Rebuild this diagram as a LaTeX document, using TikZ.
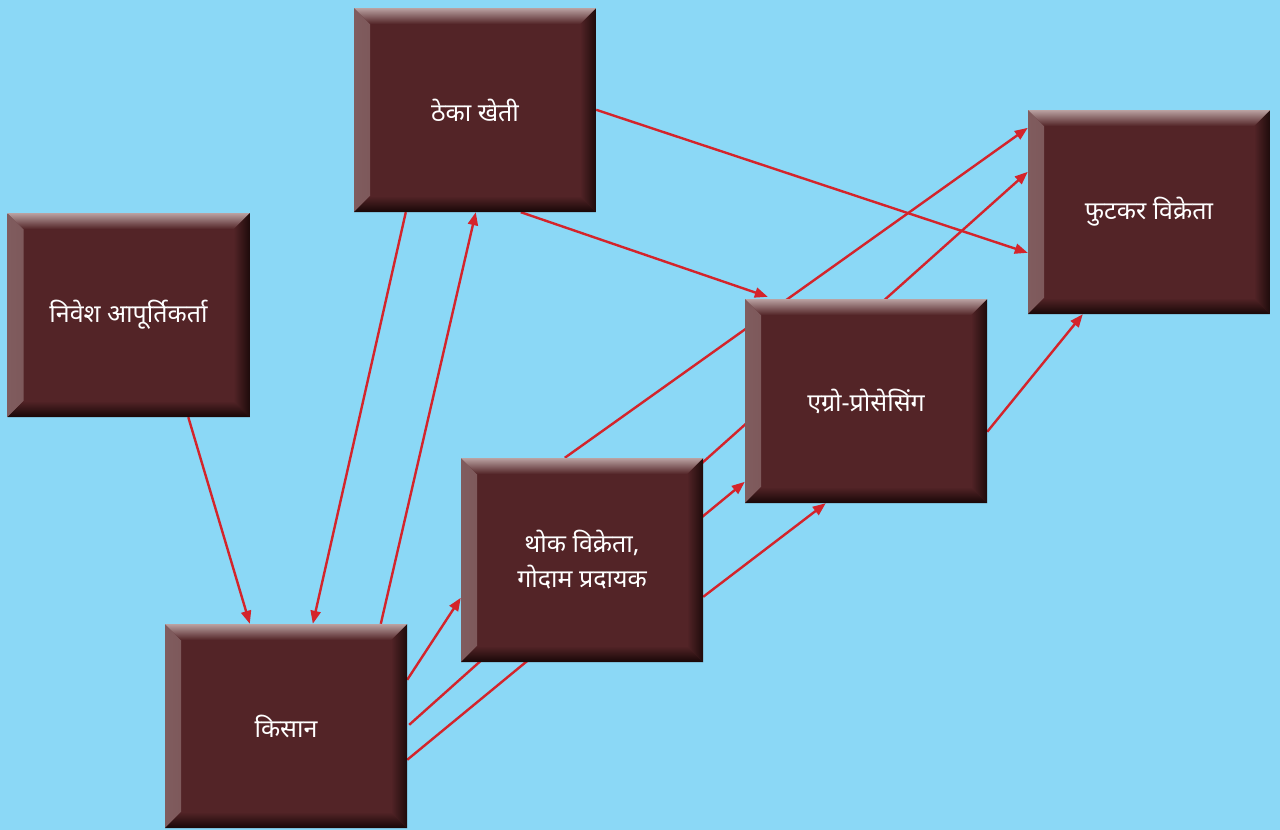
\documentclass[tikz,border=0pt]{standalone}
\usepackage{fontspec}
\newfontfamily\deva[Script=Devanagari]{Noto Sans}
\usetikzlibrary{arrows.meta}
\pgfdeclarelayer{back}
\pgfdeclarelayer{links}
\pgfsetlayers{back,links,main}

\definecolor{sky}{RGB}{139,216,246}
\definecolor{boxc}{RGB}{83,36,39}
\definecolor{bevtop}{RGB}{186,162,162}
\definecolor{bevleft}{RGB}{128,92,94}
\definecolor{bevright}{RGB}{30,11,11}
\definecolor{bevbot}{RGB}{24,7,7}
\definecolor{linkred}{RGB}{212,36,43}

\tikzset{
  bevelbox/.style={
    minimum width=242pt, minimum height=204pt, inner sep=0pt,
    fill=boxc, text=white, align=center,
    font=\deva\fontsize{25}{35}\selectfont,
    path picture={
      \def\bb{path picture bounding box}
      % left bevel
      \shade[left color=bevleft, right color=boxc!85!bevleft]
        (\bb.north west) -- ([xshift=16pt,yshift=-16pt]\bb.north west)
        -- ([xshift=16pt,yshift=16pt]\bb.south west) -- (\bb.south west) -- cycle;
      % right bevel
      \shade[left color=boxc, right color=bevright]
        (\bb.north east) -- ([xshift=-16pt,yshift=-16pt]\bb.north east)
        -- ([xshift=-16pt,yshift=16pt]\bb.south east) -- (\bb.south east) -- cycle;
      % bottom bevel
      \shade[top color=boxc, bottom color=bevbot]
        (\bb.south west) -- ([xshift=16pt,yshift=16pt]\bb.south west)
        -- ([xshift=-16pt,yshift=16pt]\bb.south east) -- (\bb.south east) -- cycle;
      % top bevel
      \shade[top color=bevtop, bottom color=boxc]
        (\bb.north west) -- ([xshift=16pt,yshift=-16pt]\bb.north west)
        -- ([xshift=-16pt,yshift=-16pt]\bb.north east) -- (\bb.north east) -- cycle;
    }
  },
  link/.style={draw=linkred, line width=2.4pt,
    -{Triangle[length=13pt,width=10pt]}}
}

\begin{document}
\begin{tikzpicture}[x=1pt,y=-1pt]
\begin{pgfonlayer}{back}
  \fill[sky] (0,0) rectangle (1280,830);
\end{pgfonlayer}
\useasboundingbox (0,0) rectangle (1280,830);

% the six stages of the chain
\node[bevelbox] (A) at (128.5,315) {निवेश आपूर्तिकर्ता};
\node[bevelbox] (B) at (475,110)   {ठेका खेती};
\node[bevelbox] (C) at (286,726)   {किसान};
\node[bevelbox] (D) at (582,560)   {थोक विक्रेता,\\गोदाम प्रदायक};
\node[bevelbox] (E) at (866,401)   {एग्रो-प्रोसेसिंग};
\node[bevelbox] (F) at (1149,212)  {फुटकर विक्रेता};

% links run beneath the boxes
\begin{pgfonlayer}{links}
  \draw[link] ([xshift=181pt]A.south west) -- ([xshift=85pt]C.north west);
  \draw[link] ([xshift=52pt]B.south west)  -- ([xshift=148pt]C.north west);
  \draw[link] ([xshift=216pt]C.north west) -- ([xshift=122pt]B.south west);
  \draw[link] ([xshift=167pt]B.south west) -- ([xshift=23pt,yshift=2pt]E.north west);
  \draw[link] ([yshift=-102pt]B.north east) -- ([yshift=-143pt]F.north west);
  \draw[link] ([yshift=-56pt]C.north east)  -- ([yshift=-140pt]D.north west);
  \draw[link] ([xshift=2pt,yshift=-101pt]C.north east) -- ([yshift=-62pt]F.north west);
  \draw[link] ([yshift=-136pt]C.north east) -- ([yshift=-183pt]E.north west);
  \draw[link] ([yshift=-139pt]D.north east) -- ([xshift=81pt]E.south west);
  \draw[link] ([xshift=104pt]D.north west)  -- ([yshift=-18pt]F.north west);
  \draw[link] ([yshift=-133pt]E.north east) -- ([xshift=55pt]F.south west);
\end{pgfonlayer}
\end{tikzpicture}
\end{document}
